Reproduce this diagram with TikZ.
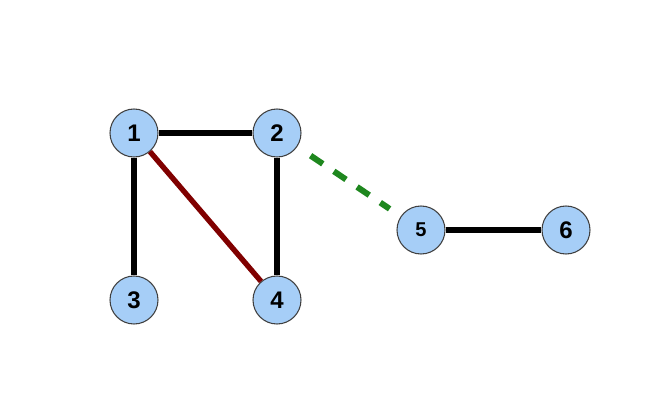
\documentclass[tikz,border=0pt]{standalone}
\usepackage{fontspec}
\setmainfont{Liberation Sans}
\usetikzlibrary{positioning}
\definecolor{vfill}{RGB}{166,206,247}
\definecolor{edgered}{RGB}{128,0,0}
\definecolor{edgegreen}{RGB}{30,135,30}

\begin{document}
\begin{tikzpicture}[x=0.75pt,y=-0.75pt,
 vertex/.style={circle,draw=black!75,line width=0.8pt,fill=vfill,minimum size=36pt,inner sep=0pt,font=\fontsize{18}{18}\selectfont\bfseries},
 edge/.style={line width=4.5pt,black},
 keyedge/.style={line width=4pt,edgered},
 bridge/.style={line width=4.5pt,edgegreen,dash pattern=on 11pt off 10pt,shorten <=12pt,shorten >=10pt}]
\useasboundingbox (0,0) rectangle (652,397);
\node[vertex](v1) at (134,133){1};
\node[vertex](v2) at (277,133){2};
\node[vertex](v3) at (134,300){3};
\node[vertex](v4) at (277,300){4};
\node[vertex,font=\fontsize{15}{15}\selectfont\bfseries](v5) at (421,230){5};
\node[vertex](v6) at (566,230){6};
\draw[edge](v1)--(v2);\draw[edge](v1)--(v3);\draw[edge](v2)--(v4);\draw[edge](v5)--(v6);
\draw[keyedge](v1)--(v4);
\draw[bridge](v2)--(v5);
\end{tikzpicture}
\end{document}
